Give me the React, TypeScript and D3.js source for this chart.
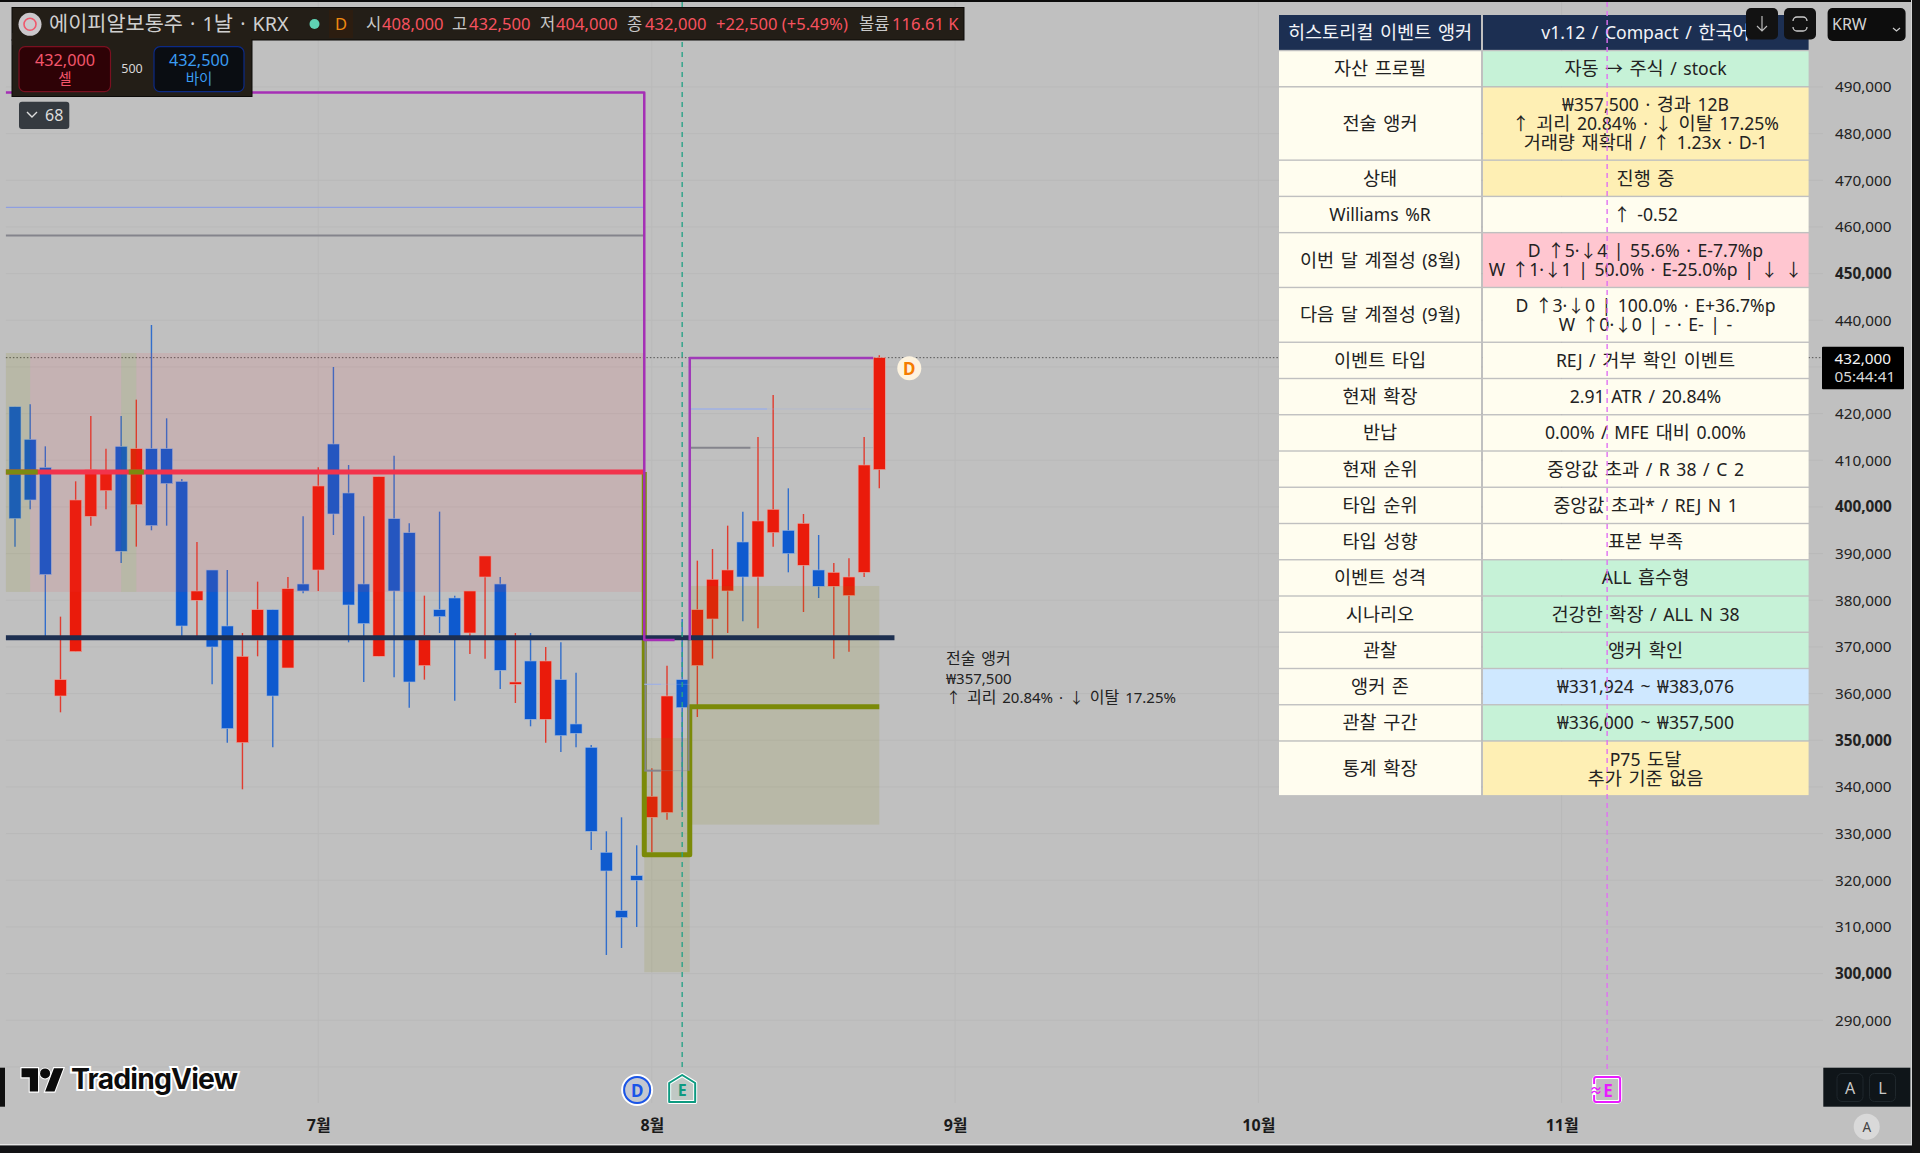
// Daily candles with historical event anchor table overlay
import React, { useEffect, useRef } from 'react';
import * as d3 from 'd3';

const opens = [421500, 414500, 408500, 359500, 369000, 398000, 403500, 413000, 400500, 412500, 412500, 405500, 380000, 386500, 374500, 349500, 371500, 378000, 365500, 383500, 386500, 413500, 403000, 383500, 368000, 397500, 394500, 366000, 378000, 380500, 373000, 385000, 383500, 362000, 367000, 354500, 363000, 353500, 348500, 326000, 313500, 321000, 333500, 334500, 363000, 366000, 376000, 382000, 392500, 385000, 394500, 395000, 387500, 386500, 383000, 381000, 386000, 408000];
const highs = [421500, 422000, 413000, 376500, 405500, 419500, 412500, 419500, 423000, 439000, 419000, 406000, 392500, 386500, 386500, 373000, 384000, 378000, 385000, 398000, 408500, 430000, 409000, 398000, 406500, 411000, 396500, 381000, 399000, 381000, 382000, 389500, 385000, 373000, 373000, 370000, 371000, 364500, 349000, 330500, 333500, 327500, 344000, 366000, 376000, 388500, 391000, 396000, 399000, 415000, 424000, 404000, 398500, 394000, 388000, 389000, 415000, 432500];
const lows = [391500, 399500, 372000, 356000, 369000, 396000, 399500, 388000, 391500, 395000, 396000, 371500, 371500, 362000, 349500, 339500, 368000, 348500, 365500, 381500, 382000, 394000, 371000, 362500, 368000, 363500, 357000, 363000, 373000, 358500, 368500, 367500, 361000, 358000, 353000, 349500, 347500, 348500, 326500, 304000, 305500, 310000, 326000, 333000, 335000, 355000, 367500, 373000, 375500, 374000, 391500, 386000, 377500, 380500, 367500, 369000, 385000, 404000];
const closes = [397500, 401500, 385500, 363000, 401500, 408000, 407500, 390500, 412500, 396000, 405000, 374500, 382000, 370000, 352500, 368000, 378000, 359500, 382500, 382000, 404500, 398500, 379000, 375000, 406500, 382000, 362500, 372500, 376500, 372000, 382000, 389500, 365000, 362500, 354500, 367000, 351000, 351500, 330500, 322000, 312000, 320000, 338000, 359500, 357000, 378000, 384500, 386500, 385000, 397000, 399500, 390000, 396500, 383000, 386000, 385000, 409000, 432000];

const priceTicks = [490000, 480000, 470000, 460000, 450000, 440000, 430000, 420000, 410000, 400000, 390000, 380000, 370000, 360000, 350000, 340000, 330000, 320000, 310000, 300000, 290000];
const boldTicks = [450000, 400000, 350000, 300000];
const monthIdx = [20, 42, 62, 82, 102];
const monthLabels = ['7월', '8월', '9월', '10월', '11월'];

const tableLabels = ['히스토리컬 이벤트 앵커', '자산 프로필', '전술 앵커', '상태', 'Williams %R', '이번 달 계절성 (8월)', '다음 달 계절성 (9월)', '이벤트 타입', '현재 확장', '반납', '현재 순위', '타입 순위', '타입 성향', '이벤트 성격', '시나리오', '관찰', '앵커 존', '관찰 구간', '통계 확장'];
const tableValues = [
  ['v1.12 / Compact / 한국어'],
  ['자동 → 주식 / stock'],
  ['₩357,500 · 경과 12B', '↑ 괴리 20.84% · ↓ 이탈 17.25%', '거래량 재확대 / ↑ 1.23x · D-1'],
  ['진행 중'],
  ['↑ -0.52'],
  ['D ↑5·↓4 | 55.6% · E-7.7%p', 'W ↑1·↓1 | 50.0% · E-25.0%p | ↓ ↓'],
  ['D ↑3·↓0 | 100.0% · E+36.7%p', 'W ↑0·↓0 | - · E- | -'],
  ['REJ / 거부 확인 이벤트'],
  ['2.91 ATR / 20.84%'],
  ['0.00% / MFE 대비 0.00%'],
  ['중앙값 초과 / R 38 / C 2'],
  ['중앙값 초과* / REJ N 1'],
  ['표본 부족'],
  ['ALL 흡수형'],
  ['건강한 확장 / ALL N 38'],
  ['앵커 확인'],
  ['₩331,924 ~ ₩383,076'],
  ['₩336,000 ~ ₩357,500'],
  ['P75 도달', '추가 기준 없음'],
];
const tableFills = ['#1c2f52', '#c6f2d7', '#feefb4', '#feefb4', '#fffdef', '#ffc6d0', '#fffdef', '#fffdef', '#fffdef', '#fffdef', '#fffdef', '#fffdef', '#fffdef', '#c6f2d7', '#c6f2d7', '#c6f2d7', '#cfe8ff', '#c6f2d7', '#feefb4'];

const legendParts = [
  { x: 366, t: '시', c: '#c8c8c8' }, { x: 382, t: '408,000', c: '#f7525f' },
  { x: 452, t: '고', c: '#c8c8c8' }, { x: 469, t: '432,500', c: '#f7525f' },
  { x: 540, t: '저', c: '#c8c8c8' }, { x: 556, t: '404,000', c: '#f7525f' },
  { x: 627, t: '종', c: '#c8c8c8' }, { x: 645, t: '432,000', c: '#f7525f' },
  { x: 716, t: '+22,500 (+5.49%)', c: '#f7525f' },
  { x: 859, t: '볼륨', c: '#c8c8c8' }, { x: 892, t: '116.61 K', c: '#f7525f' },
];

const FONT = "'Noto Sans', 'Noto Sans CJK KR', sans-serif";
const ZONE_LEFT = -0.6;

const App: React.FC = () => {
  const svgRef = useRef<SVGSVGElement>(null);

  useEffect(() => {
    document.body.style.margin = '0';
    const svg = d3.select(svgRef.current);
    svg.selectAll('*').remove();
    svg.style('font-family', FONT);

    const xScale = d3.scaleLinear().domain([0, 57]).range([15, 879.3]);
    const yScale = d3.scaleLinear().domain([490000, 290000]).range([87, 1020.3]);
    const left = xScale(ZONE_LEFT);
    const axisX = 1823;

    const label = (g: any, x: number, y: number, t: string, size: number, fill: string, anchor = 'start', weight = '400') =>
      g.append('text').attr('x', x).attr('y', y).attr('fill', fill).attr('text-anchor', anchor)
        .style('font-size', `${size}px`).style('font-weight', weight).text(t);

    // hangul runs sit larger than the latin glyphs in the source font
    const rich = (g: any, x: number, y: number, t: string, hangul: number, latin: number, fill: string, anchor = 'start') => {
      const el = g.append('text').attr('x', x).attr('y', y).attr('fill', fill).attr('text-anchor', anchor)
        .style('word-spacing', '2px').attr('xml:space', 'preserve');
      (t.match(/[\uAC00-\uD7A3]+|[^\uAC00-\uD7A3]+/g) || []).forEach((run) => {
        el.append('tspan').style('font-size', `${/[\uAC00-\uD7A3]/.test(run) ? hangul : latin}px`).text(run);
      });
      return el;
    };

    const hLine = (y: number, i0: number, i1: number, color: string, w: number, op = 1) =>
      svg.append('line').attr('x1', xScale(i0)).attr('x2', xScale(i1)).attr('y1', yScale(y)).attr('y2', yScale(y))
        .attr('stroke', color).attr('stroke-width', w).attr('opacity', op);

    const zone = (i0: number, i1: number, top: number, bottom: number, color: string) =>
      svg.append('rect').attr('x', xScale(i0)).attr('width', xScale(i1) - xScale(i0))
        .attr('y', yScale(top)).attr('height', yScale(bottom) - yScale(top)).attr('fill', color);

    // background
    svg.append('rect').attr('width', 1920).attr('height', 1153).attr('fill', '#c0c0c0');

    // grid
    priceTicks.concat([280000]).forEach((p) => {
      svg.append('line').attr('x1', left).attr('x2', axisX).attr('y1', yScale(p)).attr('y2', yScale(p))
        .attr('stroke', '#b9b9b9').attr('stroke-width', 1);
    });
    monthIdx.forEach((i) => {
      svg.append('line').attr('x1', xScale(i)).attr('x2', xScale(i)).attr('y1', 2).attr('y2', 1103)
        .attr('stroke', '#b9b9b9').attr('stroke-width', 1);
    });

    // last price dotted line
    svg.append('line').attr('x1', left).attr('x2', axisX).attr('y1', yScale(432000)).attr('y2', yScale(432000))
      .attr('stroke', '#555').attr('stroke-width', 1).attr('stroke-dasharray', '1.5,2');

    // candles
    const upColor = '#ea1b0b';
    const downColor = '#0e5acf';
    opens.forEach((o, i) => {
      const c = closes[i];
      const color = c >= o ? upColor : downColor;
      const cx = xScale(i);
      svg.append('line').attr('x1', cx).attr('x2', cx).attr('y1', yScale(highs[i])).attr('y2', yScale(lows[i]))
        .attr('stroke', color).attr('stroke-width', 1.4).attr('opacity', 0.8);
      const top = yScale(Math.max(o, c));
      const h = Math.max(1.5, yScale(Math.min(o, c)) - top);
      svg.append('rect').attr('x', cx - 6).attr('y', top).attr('width', 12).attr('height', h)
        .attr('fill', color).attr('stroke', color === upColor ? '#e9a8a0' : '#a0b8dc').attr('stroke-width', 0.6);
    });

    // zones
    const pink = 'rgba(242,54,69,0.1)';
    const olive = 'rgba(128,128,0,0.13)';
    zone(1, 7, 433000, 381800, pink);
    zone(8, 41.4, 433000, 381800, pink);
    zone(ZONE_LEFT, 1, 433000, 381800, olive);
    zone(7, 8, 433000, 381800, olive);
    zone(41.4, 41.55, 433000, 381800, olive);
    zone(41.5, 44.5, 350500, 300300, olive);
    zone(44.5, 57, 383076, 331924, olive);

    // reference levels inside each swing box
    hLine(464200, ZONE_LEFT, 41.5, '#8f9fe0', 1.2);
    hLine(458200, ZONE_LEFT, 41.5, '#84848c', 2);
    hLine(421000, 44.5, 49.6, '#9fb0e4', 1.4);
    hLine(421000, 49.6, 56.6, '#9fb0e4', 1, 0.35);
    hLine(412700, 44.5, 48.5, '#84848c', 2);
    hLine(412700, 48.5, 56.6, '#84848c', 1, 0.3);

    const line = d3.line<[number, number]>().x((d) => xScale(d[0])).y((d) => yScale(d[1]));
    const poly = (pts: [number, number][], color: string, w: number) =>
      svg.append('path').attr('d', line(pts)).attr('fill', 'none').attr('stroke', color)
        .attr('stroke-width', w).attr('stroke-linejoin', 'round');

    // olive anchor outline
    poly([[41.5, 407500], [41.5, 325500], [44.5, 325500], [44.5, 357200], [57, 357200]], '#7b8a08', 5);

    // gray legs sit on the olive outline
    poly([[41.58, 371500], [41.58, 343500]], '#84848c', 2);
    poly([[44.42, 371500], [44.42, 343500]], '#84848c', 2);
    hLine(362000, 41.5, 42.6, '#9fb0e4', 1.2);
    hLine(362000, 42.6, 44.5, '#9fb0e4', 1, 0.3);
    hLine(343500, 41.5, 42.6, '#84848c', 2);
    hLine(343500, 42.6, 44.5, '#84848c', 1, 0.35);

    // red and navy levels
    hLine(407500, ZONE_LEFT, 41.5, '#f2334c', 5);
    hLine(407500, ZONE_LEFT, 1.5, '#7b8a10', 5);
    hLine(407500, 7.5, 8.5, '#7b8a10', 5);
    hLine(372000, ZONE_LEFT, 58, '#1d2f50', 5);

    // purple boxes
    poly([[ZONE_LEFT, 488800], [41.5, 488800], [41.5, 371500], [43.5, 371500]], '#a52fb5', 2.5);
    poly([[44.5, 371500], [44.5, 431900], [56.6, 431900]], '#a03ab8', 2.5);

    // event lines
    svg.append('line').attr('x1', xScale(44)).attr('x2', xScale(44)).attr('y1', 2).attr('y2', 1070)
      .attr('stroke', '#2ba488').attr('stroke-width', 1.4).attr('stroke-dasharray', '5,5');

    // annotation
    const note = svg.append('g');
    rich(note, 946, 664, '전술 앵커', 16, 15, '#222');
    rich(note, 946, 684, '₩357,500', 16, 15, '#222');
    rich(note, 946, 702.5, '↑ 괴리 20.84% · ↓ 이탈 17.25%', 16, 15, '#222');

    // last bar dividend badge
    const badge = svg.append('g');
    badge.append('circle').attr('cx', xScale(57) + 30).attr('cy', 368.3).attr('r', 12).attr('fill', '#fdf3df');
    label(badge, xScale(57) + 30, 374.5, 'D', 17, '#f57c00', 'middle', '700');

    // table
    const rowStep = (n: number) => 17.7 + 18.55 * n;
    const table = svg.append('g');
    let rowTop = 15;
    tableLabels.forEach((name, i) => {
      const lines = tableValues[i];
      const h = rowStep(lines.length);
      const isHead = i === 0;
      table.append('rect').attr('x', 1279).attr('y', rowTop).attr('width', 202).attr('height', h - 1.4)
        .attr('fill', isHead ? tableFills[0] : '#fffdef');
      table.append('rect').attr('x', 1483).attr('y', rowTop).attr('width', 325.6).attr('height', h - 1.4)
        .attr('fill', tableFills[i]);
      const mid = rowTop + (h - 1.4) / 2;
      const color = isHead ? '#f2f4f8' : '#222';
      rich(table, 1380, mid + 6.6, name, 18.6, 17.6, color, 'middle');
      lines.forEach((t, k) => {
        const yy = mid + 6.6 + (k - (lines.length - 1) / 2) * 19;
        rich(table, 1645.5, yy, t, 18.6, 17.6, color, 'middle');
      });
      rowTop += h;
    });

    // future earnings line runs over the table
    svg.append('line').attr('x1', xScale(105)).attr('x2', xScale(105)).attr('y1', 2).attr('y2', 1070)
      .attr('stroke', '#e070f2').attr('stroke-width', 1.4).attr('stroke-dasharray', '5,4');

    // price axis
    const yAxis = d3.axisRight(yScale).tickValues(priceTicks).tickSize(0).tickPadding(0)
      .tickFormat((d) => d3.format(',')(d as number));
    const axisG = svg.append('g').attr('transform', 'translate(1835,0)').call(yAxis);
    axisG.select('.domain').remove();
    axisG.selectAll('text').attr('fill', '#222').style('font-family', FONT).style('font-size', '15.3px')
      .style('font-weight', (d: any) => (boldTicks.includes(d) ? '700' : '400'));

    // month axis
    const xAxis = d3.axisBottom(xScale).tickValues(monthIdx).tickSize(0).tickPadding(0)
      .tickFormat((_, i) => monthLabels[i]);
    const monthG = svg.append('g').attr('transform', 'translate(0,1120)').call(xAxis);
    monthG.select('.domain').remove();
    monthG.selectAll('text').attr('fill', '#1a1a1a').style('font-family', FONT).style('font-size', '16px').style('font-weight', '700');

    // last price tag
    const tag = svg.append('g');
    tag.append('rect').attr('x', 1822).attr('y', 346.7).attr('width', 82).attr('height', 42.6).attr('rx', 1).attr('fill', '#000');
    label(tag, 1834.5, 363.5, '432,000', 15.3, '#f4f4f4');
    label(tag, 1834.5, 382, '05:44:41', 15.3, '#d8d8d8');

    // legend panel
    const legend = svg.append('g');
    legend.append('rect').attr('x', 12).attr('y', 7.5).attr('width', 952).attr('height', 32.5)
      .attr('fill', '#231e17').attr('stroke', '#0c0a08').attr('stroke-width', 1);
    legend.append('rect').attr('x', 12).attr('y', 40).attr('width', 240).attr('height', 56.5)
      .attr('fill', '#231e17').attr('stroke', '#0c0a08').attr('stroke-width', 1);
    legend.append('rect').attr('x', 12).attr('y', 33).attr('width', 239.5).attr('height', 12).attr('fill', '#231e17');
    legend.append('circle').attr('cx', 30).attr('cy', 24.3).attr('r', 11.5).attr('fill', '#cbc8cc');
    legend.append('circle').attr('cx', 30).attr('cy', 24.3).attr('r', 6).attr('fill', 'none').attr('stroke', '#f0586c').attr('stroke-width', 1.6);
    rich(legend, 49, 31, '에이피알보통주 · 1날 · KRX', 20.8, 19.8, '#cfcfcf');
    legend.append('circle').attr('cx', 314.5).attr('cy', 24).attr('r', 5).attr('fill', '#5fd2b4');
    legend.append('rect').attr('x', 329).attr('y', 10).attr('width', 24).attr('height', 28).attr('fill', '#2c1d10');
    label(legend, 341, 30, 'D', 16.5, '#f08a10', 'middle');
    legendParts.forEach((p) => label(legend, p.x, 30, p.t, 16.6, p.c));

    legend.append('rect').attr('x', 19).attr('y', 46.7).attr('width', 91.5).attr('height', 45).attr('rx', 6)
      .attr('fill', '#2e0206').attr('stroke', '#7a1020').attr('stroke-width', 1.2);
    label(legend, 65, 66, '432,000', 16.2, '#f4566c', 'middle');
    label(legend, 65, 84, '셀', 14.5, '#f4566c', 'middle');
    label(legend, 132, 73, '500', 12.5, '#d8d8d8', 'middle');
    legend.append('rect').attr('x', 154).attr('y', 46.7).attr('width', 90).attr('height', 45).attr('rx', 6)
      .attr('fill', '#0a0d12').attr('stroke', '#0c2a86').attr('stroke-width', 1.2);
    label(legend, 199, 66, '432,500', 16.2, '#3a9cf2', 'middle');
    label(legend, 199, 84, '바이', 14.5, '#3a9cf2', 'middle');

    // bars collapse chip
    const chip = svg.append('g');
    chip.append('rect').attr('x', 19).attr('y', 101.7).attr('width', 50.3).attr('height', 27.3).attr('rx', 3).attr('fill', '#353a40');
    chip.append('path').attr('d', 'M27 112 L32 117 L37 112').attr('fill', 'none').attr('stroke', '#ddd').attr('stroke-width', 1.4);
    label(chip, 45, 121, '68', 16, '#dedede');

    // top right buttons
    const btns = svg.append('g');
    [1746, 1784].forEach((x) => {
      btns.append('rect').attr('x', x).attr('y', 8).attr('width', 32).attr('height', 31.5).attr('rx', 5).attr('fill', '#121212');
    });
    btns.append('path').attr('d', 'M1762 16 V31 M1757 26 L1762 31 L1767 26').attr('fill', 'none').attr('stroke', '#bbb').attr('stroke-width', 1.2);
    btns.append('path').attr('d', 'M1793 21 a4 4 0 0 1 4 -4 h6 a4 4 0 0 1 4 4 M1793 27 a4 4 0 0 0 4 4 h6 a4 4 0 0 0 4 -4')
      .attr('fill', 'none').attr('stroke', '#ccc').attr('stroke-width', 1.3);
    btns.append('rect').attr('x', 1827.6).attr('y', 8).attr('width', 78).attr('height', 33).attr('rx', 5).attr('fill', '#0d0d0d');
    label(btns, 1832, 30, 'KRW', 16, '#d4d4d4');
    btns.append('path').attr('d', 'M1893 28 L1896.5 31 L1900 28').attr('fill', 'none').attr('stroke', '#ccc').attr('stroke-width', 1.2);

    // TradingView logo
    const logo = svg.append('g');
    logo.append('path').attr('d', 'M14 22H7V11H0V4h14v18zM28 22h-8l7.5-18h8L28 22z')
      .attr('transform', 'translate(21.5,1063) scale(1.18,1.3)').attr('fill', '#0c0c0c').attr('stroke', '#fff').attr('stroke-width', 1.8).style('paint-order', 'stroke');
    logo.append('circle').attr('cx', 21.5 + 20 * 1.18).attr('cy', 1063 + 8 * 1.3).attr('r', 5).attr('fill', '#0c0c0c').attr('stroke', '#fff').attr('stroke-width', 2).style('paint-order', 'stroke');
    logo.append('text').attr('x', 71).attr('y', 1088.5).attr('fill', '#0c0c0c').attr('stroke', '#fff').attr('stroke-width', 4)
      .style('paint-order', 'stroke').style('font-family', 'Inter').style('font-weight', '700').style('font-size', '28.5px').attr('textLength', 167).text('TradingView');

    // event badges
    const ev = svg.append('g');
    const dx = xScale(41.03);
    ev.append('circle').attr('cx', dx).attr('cy', 1090).attr('r', 14).attr('fill', '#c4c8d0').attr('stroke', '#fff').attr('stroke-width', 4).style('paint-order', 'stroke');
    ev.append('circle').attr('cx', dx).attr('cy', 1090).attr('r', 13).attr('fill', 'none').attr('stroke', '#1a55e8').attr('stroke-width', 2);
    label(ev, dx, 1096.5, 'D', 17, '#1a55e8', 'middle', '700');
    const ex = xScale(44);
    ev.append('path').attr('d', `M${ex} 1075 L${ex + 13} 1083 V1102 H${ex - 13} V1083 Z`).attr('fill', '#c0c8c4')
      .attr('stroke', '#fff').attr('stroke-width', 4).attr('stroke-linejoin', 'round');
    ev.append('path').attr('d', `M${ex} 1075 L${ex + 13} 1083 V1102 H${ex - 13} V1083 Z`).attr('fill', 'none')
      .attr('stroke', '#0d9a80').attr('stroke-width', 2).attr('stroke-linejoin', 'round');
    label(ev, ex, 1096, 'E', 16, '#0d9a80', 'middle', '700');
    const mx = xScale(105);
    ev.append('rect').attr('x', mx - 13).attr('y', 1077).attr('width', 26).attr('height', 25).attr('rx', 3).attr('fill', '#c0c0c0')
      .attr('stroke', '#fff').attr('stroke-width', 4);
    ev.append('path').attr('d', `M${mx - 13} 1084 V1079 a2 2 0 0 1 2 -2 H${mx + 11} a2 2 0 0 1 2 2 V1100 a2 2 0 0 1 -2 2 H${mx - 11} a2 2 0 0 1 -2 -2 V1095`)
      .attr('fill', 'none').attr('stroke', '#e81cff').attr('stroke-width', 2);
    label(ev, mx - 11, 1095, '≈', 13, '#e81cff', 'middle', '700');
    label(ev, mx + 1, 1096.5, 'E', 17, '#e81cff', 'middle', '700');

    // scale buttons
    const scaleBox = svg.append('g');
    scaleBox.append('rect').attr('x', 1823.3).attr('y', 1067.7).attr('width', 87).attr('height', 39).attr('fill', '#0f1519');
    [[1837, 'A'], [1869.5, 'L']].forEach(([x, t]) => {
      scaleBox.append('rect').attr('x', x as number).attr('y', 1073.5).attr('width', 26).attr('height', 28).attr('rx', 5)
        .attr('fill', 'none').attr('stroke', '#1f272c').attr('stroke-width', 1);
      label(scaleBox, (x as number) + 13, 1094, t as string, 16, '#c8c8c8', 'middle');
    });
    svg.append('circle').attr('cx', 1866.7).attr('cy', 1126.7).attr('r', 13).attr('fill', '#d9d9d9');
    label(svg, 1866.7, 1132, 'A', 13.5, '#444', 'middle');

    // screen edges
    svg.append('rect').attr('x', 0).attr('y', 0).attr('width', 1920).attr('height', 2).attr('fill', '#0c0c0c');
    svg.append('rect').attr('x', 0).attr('y', 1144).attr('width', 1920).attr('height', 1.2).attr('fill', '#e6e6e6');
    svg.append('rect').attr('x', 0).attr('y', 1145.5).attr('width', 1920).attr('height', 7.5).attr('fill', '#111214');
    svg.append('rect').attr('x', 1911).attr('y', 0).attr('width', 1).attr('height', 1145).attr('fill', '#d6d6d6');
    svg.append('rect').attr('x', 1912).attr('y', 0).attr('width', 8).attr('height', 1153).attr('fill', '#141414');
    svg.append('rect').attr('x', 0).attr('y', 1067.7).attr('width', 5).attr('height', 39).attr('fill', '#0f0f0f');
  }, []);

  return <svg ref={svgRef} width={1920} height={1153} style={{ display: 'block' }} />;
};

export default App;
